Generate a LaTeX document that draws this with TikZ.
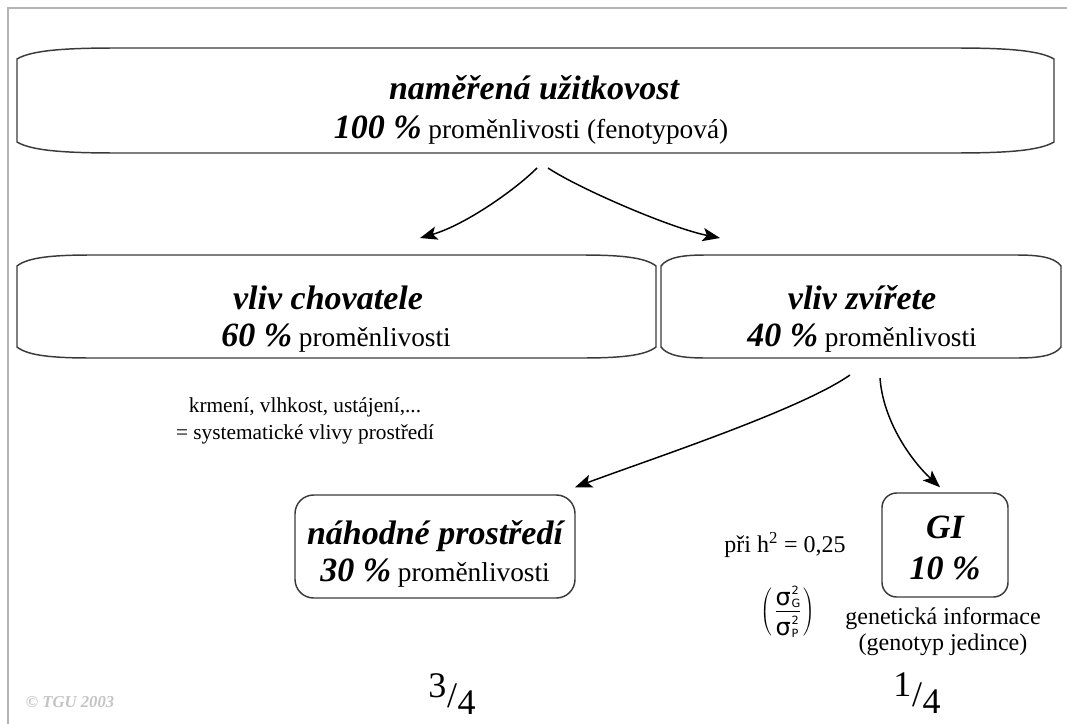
\documentclass[tikz,border=0pt]{standalone}
\usepackage{fontspec}
\setmainfont{Liberation Serif}
\newfontfamily\sigfont{DejaVu Sans}
\usetikzlibrary{calc,arrows.meta}
\definecolor{boxgray}{HTML}{3A3A3A}
\definecolor{framegray}{HTML}{B4B4B4}
\definecolor{copygray}{HTML}{C4C4C4}
\newcommand\drawscroll[2]{%
 \draw[boxline] ($(#1.north west)+(#2,0)$) -- ($(#1.north east)+(-#2,0)$)
  .. controls ($(#1.north east)+(-0.5*#2,0)$) and ($(#1.north east)+(-0.15*#2,2)$) .. ($(#1.north east)+(0,11)$)
  -- ($(#1.south east)+(0,-11)$)
  .. controls ($(#1.south east)+(-0.15*#2,-2)$) and ($(#1.south east)+(-0.5*#2,0)$) .. ($(#1.south east)+(-#2,0)$)
  -- ($(#1.south west)+(#2,0)$)
  .. controls ($(#1.south west)+(0.5*#2,0)$) and ($(#1.south west)+(0.15*#2,-2)$) .. ($(#1.south west)+(0,-11)$)
  -- ($(#1.north west)+(0,11)$)
  .. controls ($(#1.north west)+(0.15*#2,2)$) and ($(#1.north west)+(0.5*#2,0)$) .. cycle;}
\newcommand\rgpart{\fontsize{20.5}{25}\selectfont\mdseries\upshape}
\tikzset{
  boxline/.style={draw=boxgray,line width=1.1pt},
  boxshape/.style={inner sep=0pt,outer sep=0pt},
  rbox/.style={draw=boxgray,line width=1.1pt,inner sep=0pt},
  txt/.style={inner sep=0pt,text height=0.7em,text depth=0.2em},
  hd/.style={txt,font=\fontsize{25.5}{30}\selectfont\bfseries\itshape},
  arr/.style={draw=black,line width=1.1pt,-{Stealth[length=13pt,width=10pt,inset=3pt]}},
}
\newcommand\sgs[1]{\hbox{\sigfont\fontsize{18}{20}\selectfont σ\kern0.5pt\raisebox{-2pt}{\fontsize{8.5}{9}\selectfont\vbox{\hbox{2}\kern1pt\hbox{#1}}}}}
\begin{document}
\begin{tikzpicture}[x=0.75pt,y=-0.75pt]
\useasboundingbox (0,0) rectangle (1067,724);
\draw[framegray,line width=1.5pt] (8,724) -- (8,8) -- (1067,8);

% boxes
\node[boxshape,minimum width=777.75pt,minimum height=78.75pt] (top) at (535.5,100.5) {};
\node[boxshape,minimum width=479.25pt,minimum height=77.25pt] (mleft) at (336.5,306.5) {};
\node[boxshape,minimum width=300pt,minimum height=77.25pt] (mright) at (861,306.5) {};
\drawscroll{top}{100}
\drawscroll{mleft}{75}
\drawscroll{mright}{45}
\node[rbox,rounded corners=14pt,minimum width=210pt,minimum height=77.25pt] (nahod) at (435,546.5) {};
\node[rbox,rounded corners=11pt,minimum width=94.5pt,minimum height=78pt] (gi) at (945,545) {};

% texts
\node[hd] (t1a) at (534,96) {naměřená užitkovost};
\node[hd] (t1b) at (531,135) {100 \%\rgpart{} proměnlivosti (fenotypová)};
\node[hd] (t2a) at (328,306) {vliv chovatele};
\node[hd] (t2b) at (336,343) {60 \%\rgpart{} proměnlivosti};
\node[hd] (t3a) at (862,306) {vliv zvířete};
\node[hd] (t3b) at (862,343) {40 \%\rgpart{} proměnlivosti};
\node[inner sep=0pt,align=center,font=\fontsize{16}{20.25}\selectfont] (t4) at (305,421) {krmení, vlhkost, ustájení,...\\= systematické vlivy prostředí};
\node[hd] (t5a) at (435,541) {náhodné prostředí};
\node[hd] (t5b) at (435,578) {30 \%\rgpart{} proměnlivosti};
\node[hd] (t6a) at (945,535) {GI};
\node[hd] (t6b) at (945,576) {10 \%};
\node[txt,font=\fontsize{18}{21}\selectfont] (h2) at (785,549) {při h\textsuperscript{2} = 0,25};
\node[inner sep=0pt,font=\fontsize{14}{16}\selectfont] (sig) at (788,612) {$\left(\,\vcenter{\hbox{\vbox{\hbox{\sgs{G}}\kern2.5pt\hrule height 0.7pt\kern3pt\hbox{\sgs{P}}}}}\,\right)$};
\node[inner sep=0pt,align=center,font=\fontsize{18}{19.5}\selectfont] (gen) at (943,632) {genetická informace\\(genotyp jedince)};
\node[inner sep=0pt,font=\fontsize{27}{30}\selectfont] (f34) at (452,694) {\raisebox{0.28em}{3}\kern0.02em/\kern0.02em\raisebox{-0.18em}{4}};
\node[inner sep=0pt,font=\fontsize{27}{30}\selectfont] (f14) at (917,693) {\raisebox{0.28em}{1}\kern0.02em/\kern0.02em\raisebox{-0.18em}{4}};
\node[txt,text=copygray,font=\fontsize{12.5}{14}\selectfont\bfseries\itshape] (copy) at (70,704) {© TGU 2003};

% connectors
\draw[arr] ($(top.south)+(1.5,15)$) .. controls ($(top.south)+(-20.5,37)$) and ($(mleft.north)+(128.5,-30)$) .. ($(mleft.north)+(83.5,-17)$);
\draw[arr] ($(top.south)+(12.5,15)$) .. controls ($(top.south)+(42.5,35)$) and ($(mright.north)+(-191,-27)$) .. ($(mright.north)+(-141,-17)$);
\draw[arr] ($(mright.south)+(-11,17)$) .. controls ($(mright.south)+(-61,52)$) and ($(nahod.north)+(215,-35)$) .. ($(nahod.north)+(140,-7)$);
\draw[arr] ($(mright.south)+(19,20)$) .. controls ($(mright.south)+(22,62)$) and ($(gi.north)+(-35,-33)$) .. ($(gi.north)+(-5,-5)$);
\end{tikzpicture}
\end{document}
